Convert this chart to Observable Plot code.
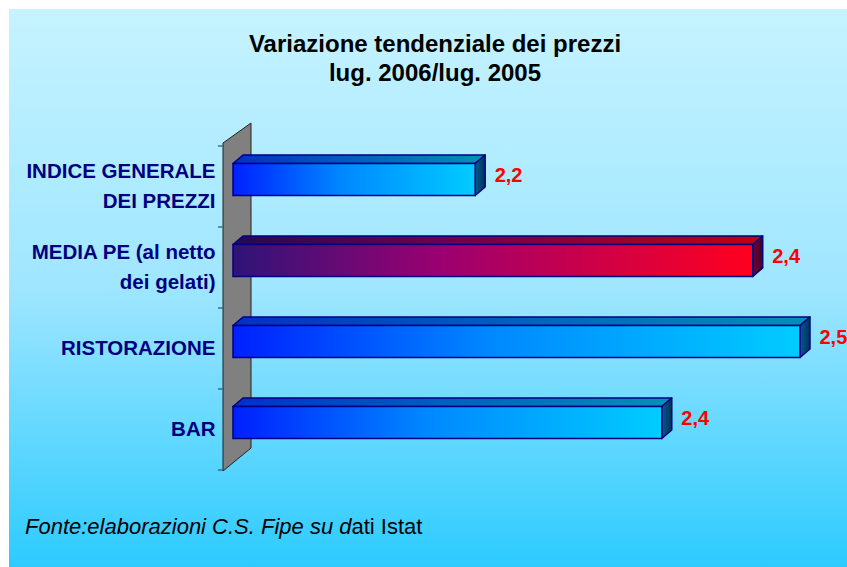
<!DOCTYPE html>
<html>
<head>
<meta charset="utf-8">
<script src="https://cdn.jsdelivr.net/npm/d3@7"></script>
<script src="https://cdn.jsdelivr.net/npm/@observablehq/plot@0.6"></script>
<style>
  body { margin: 0; background: #fff; }
  #wrap { position: relative; width: 847px; height: 567px; overflow: hidden; background: #fff; font-family: "Liberation Sans", Arial, sans-serif; }
  #bg { position: absolute; left: 9px; top: 9px; right: 0; bottom: 0; background: linear-gradient(#C6F3FF 0%, #9FE6FF 50%, #2CCBFF 100%); }
  #title { position: absolute; left: 0; top: 29px; width: 870px; text-align: center; font-weight: bold; font-size: 24px; line-height: 29px; color: #000; }
  #chart { position: absolute; left: 0; top: 0; }
  #caption { position: absolute; left: 25px; top: 514px; font-size: 22px; line-height: 26px; color: #000; white-space: nowrap; }
</style>
</head>
<body>
<div id="wrap">
  <div id="bg"></div>
  <div id="chart"></div>
  <div id="title"></div>
  <div id="caption"></div>
</div>
<script>
// ---- data ----
const titleLines = ["Variazione tendenziale dei prezzi", "lug. 2006/lug. 2005"];
const categories = ["INDICE GENERALE\nDEI PREZZI", "MEDIA PE (al netto\ndei gelati)", "RISTORAZIONE", "BAR"];
const values = [2.205, 2.44, 2.48, 2.363];
const highlighted = [false, true, false, false];
const captionItalic = "Fonte:elaborazioni C.S. Fipe su d";
const captionRegular = "ati Istat";
const axisMin = 2.0;
const axisMax = 2.5;

const data = categories.map((c, i) => ({cat: c, value: values[i], hi: highlighted[i]}));
const fmt = v => d3.format(".1f")(v).replace(".", ",");

document.getElementById("title").innerHTML = titleLines.join("<br>");
document.getElementById("caption").innerHTML = `<i>${captionItalic}</i>${captionRegular}`;

const DX = 10, DY = -8.5;
const insetTop = 17.5, insetBottom = 31.5;

function wallAndFaces(index, scales, vals, dims) {
  const x = scales.x, y = scales.y;
  const bw = typeof y.bandwidth === "function" ? y.bandwidth() : y.bandwidth;
  const g = d3.create("svg:g");
  const defs = g.append("defs");
  const grad = (id, stops) => {
    const lg = defs.append("linearGradient").attr("id", id).attr("x1", "0").attr("x2", "1").attr("y1", "0").attr("y2", "0");
    stops.forEach(([o, c]) => lg.append("stop").attr("offset", o).attr("stop-color", c));
  };
  grad("topBlue", [[0, "#0030C8"], [1, "#0092B6"]]);
  grad("sideBlue", [[0, "#005C8E"], [1, "#00305E"]]);
  grad("topRed", [[0, "#240A52"], [0.4, "#6E0050"], [1, "#C00012"]]);
  grad("sideRed", [[0, "#700038"], [1, "#420020"]]);

  const x0 = x(axisMin);
  const yTop = dims.marginTop, yBot = dims.height - dims.marginBottom;
  const wx = x0 - 10;
  // wall
  g.append("polygon")
    .attr("points", [[wx, yTop - 2], [wx + 28, yTop - 22], [wx + 28, yBot - 23], [wx, yBot]].map(p => p.join(",")).join(" "))
    .attr("fill", "#808080").attr("stroke", "#222").attr("stroke-width", 1);
  // ticks on category axis
  const bounds = categories.map(c => y(c)).concat([y(categories[categories.length - 1]) + bw]);
  bounds.forEach(b => g.append("line").attr("x1", wx - 5).attr("x2", wx).attr("y1", b).attr("y2", b)
    .attr("stroke", "#2F5F6F").attr("stroke-width", 1.3));
  // 3D faces
  data.forEach(d => {
    const xa = x(axisMin), xb = x(d.value);
    const ya = y(d.cat) + insetTop, yb = y(d.cat) + bw - insetBottom;
    g.append("polygon")
      .attr("points", [[xa, ya], [xa + DX, ya + DY], [xb + DX, ya + DY], [xb, ya]].map(p => p.join(",")).join(" "))
      .attr("fill", d.hi ? "url(#topRed)" : "url(#topBlue)").attr("stroke", "#000080").attr("stroke-width", 1.5).attr("stroke-linejoin", "round");
    g.append("polygon")
      .attr("points", [[xb, ya], [xb + DX, ya + DY], [xb + DX, yb + DY], [xb, yb]].map(p => p.join(",")).join(" "))
      .attr("fill", d.hi ? "url(#sideRed)" : "url(#sideBlue)").attr("stroke", "#000080").attr("stroke-width", 1.5).attr("stroke-linejoin", "round");
  });
  return g.node();
}

function frontDefs() {
  const g = d3.create("svg:g");
  const defs = g.append("defs");
  const grad = (id, stops) => {
    const lg = defs.append("linearGradient").attr("id", id).attr("x1", "0").attr("x2", "1").attr("y1", "0").attr("y2", "0");
    stops.forEach(([o, c]) => lg.append("stop").attr("offset", o).attr("stop-color", c));
  };
  grad("frontBlue", [[0, "#0020FF"], [0.45, "#0088FF"], [1, "#00CCFF"]]);
  grad("frontRed", [[0, "#2E1478"], [0.4, "#9C0070"], [1, "#FF001E"]]);
  return g.node();
}

const chart = Plot.plot({
  width: 847,
  height: 567,
  marginLeft: 233,
  marginRight: 23.4,
  marginTop: 145,
  marginBottom: 96,
  style: {background: "transparent", fontFamily: "'Liberation Sans', Arial, sans-serif", overflow: "hidden"},
  x: {domain: [axisMin, axisMax], axis: null},
  y: {domain: categories, padding: 0, axis: null},
  marks: [
    frontDefs,
    wallAndFaces,
    Plot.barX(data.filter(d => !d.hi), {x1: axisMin, x2: "value", y: "cat", insetTop, insetBottom, fill: "url(#frontBlue)", stroke: "#000080", strokeWidth: 1.5}),
    Plot.barX(data.filter(d => d.hi), {x1: axisMin, x2: "value", y: "cat", insetTop, insetBottom, fill: "url(#frontRed)", stroke: "#000080", strokeWidth: 1.5}),
    Plot.text(data, {y: "cat", text: "cat", frameAnchor: "left", dx: -18, dy: -4, textAnchor: "end", lineHeight: 1.46, fontSize: 20.5, fontWeight: "bold", fill: "#000080"}),
    Plot.text(data, {x: "value", y: "cat", text: d => fmt(d.value), dx: 19, dy: -11, textAnchor: "start", fontSize: 20, fontWeight: "bold", fill: "#FF0000"})
  ]
});
document.getElementById("chart").appendChild(chart);
</script>
</body>
</html>
